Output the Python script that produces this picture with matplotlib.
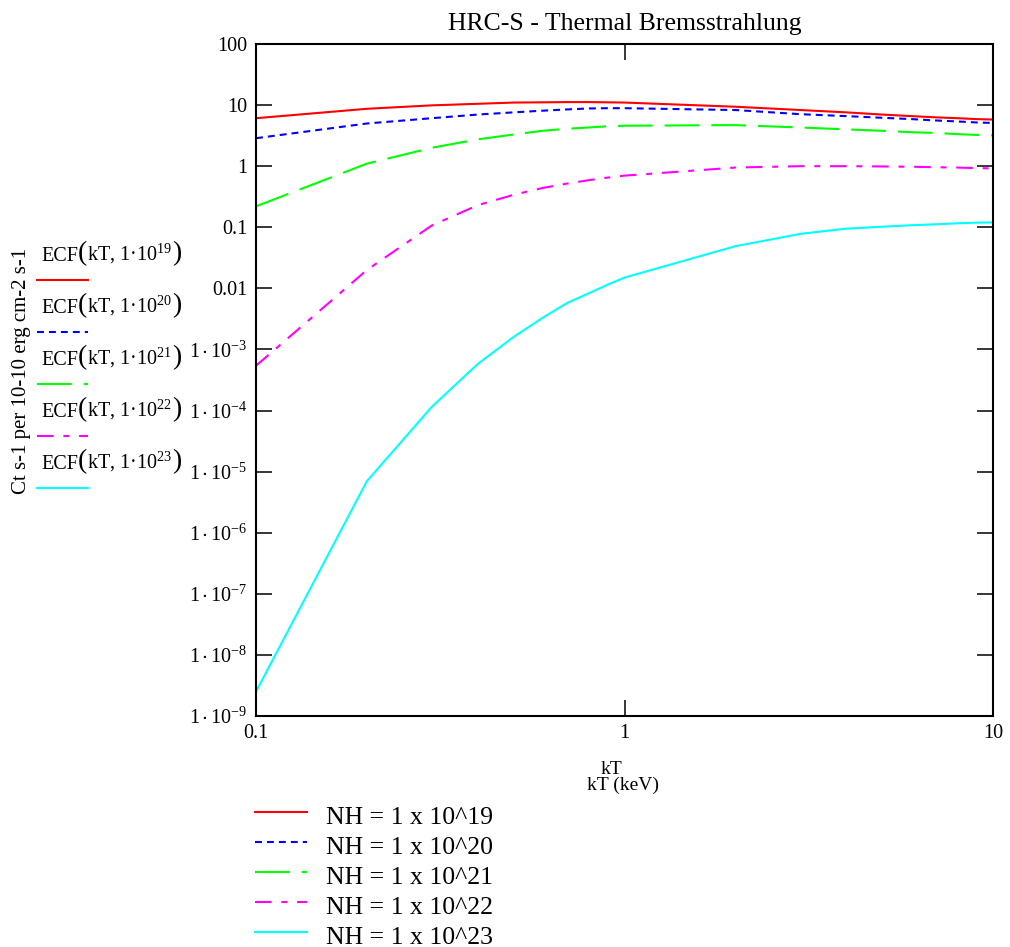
import matplotlib
matplotlib.use("Agg")
import matplotlib.pyplot as plt
from matplotlib.lines import Line2D
from matplotlib.offsetbox import TextArea, HPacker, AnnotationBbox

plt.rcParams["font.family"] = ["Liberation Serif", "DejaVu Serif"]
plt.rcParams["mathtext.fontset"] = "custom"
plt.rcParams["mathtext.rm"] = "Liberation Serif"
plt.rcParams["mathtext.it"] = "Liberation Serif:italic"
plt.rcParams["mathtext.bf"] = "Liberation Serif:bold"
plt.rcParams["mathtext.fallback"] = "stix"
plt.rcParams["lines.scale_dashes"] = False

# Temperature grid (keV)
kT = [0.1, 0.2, 0.3, 0.4, 0.5, 0.6, 0.7, 0.8, 0.9, 1.0,
      2, 3, 4, 5, 6, 7, 8, 9, 10]

# Energy conversion factors for each absorbing column
ecf_nh19 = [6.1, 8.7, 9.9, 10.5, 11.0, 11.1, 11.2, 11.2, 11.1, 11.0,
            9.4, 8.3, 7.6, 7.0, 6.6, 6.3, 6.1, 5.9, 5.8]
ecf_nh20 = [2.87, 5.0, 6.1, 7.0, 7.6, 8.1, 8.5, 8.8, 8.9, 8.9,
            8.3, 7.1, 6.6, 6.2, 5.9, 5.6, 5.4, 5.2, 5.1]
ecf_nh21 = [0.22, 1.1, 2.0, 2.75, 3.3, 3.8, 4.1, 4.3, 4.5, 4.6,
            4.7, 4.3, 4.0, 3.8, 3.6, 3.5, 3.35, 3.25, 3.2]
ecf_nh22 = [5.4e-4, 0.020, 0.107, 0.23, 0.34, 0.44, 0.52, 0.59, 0.65, 0.70,
            0.95, 1.0, 1.0, 0.99, 0.98, 0.96, 0.95, 0.93, 0.92]
ecf_nh23 = [2.5e-9, 7e-6, 1.15e-4, 5.8e-4, 1.6e-3, 3.3e-3, 5.8e-3, 8.3e-3, 0.0115, 0.015,
            0.049, 0.078, 0.095, 0.102, 0.108, 0.112, 0.116, 0.119, 0.12]

nh_exponents = ["19", "20", "21", "22", "23"]
series = [ecf_nh19, ecf_nh20, ecf_nh21, ecf_nh22, ecf_nh23]
colors = ["#ff0000", "#0000ff", "#00ff00", "#ff00ff", "#00ffff"]
dash_styles = ["-", (0, (5.0, 3.6)), (0, (25, 8.6)), (0, (12, 7, 4.3, 7)), "-"]

x_ticks = [0.1, 1, 10]
x_tick_labels = ["0.1", "1", "10"]
y_ticks = [1e-9, 1e-8, 1e-7, 1e-6, 1e-5, 1e-4, 1e-3, 0.01, 0.1, 1, 10, 100]
y_tick_labels = [r"$1\cdot10^{-9}$", r"$1\cdot10^{-8}$", r"$1\cdot10^{-7}$",
                 r"$1\cdot10^{-6}$", r"$1\cdot10^{-5}$", r"$1\cdot10^{-4}$",
                 r"$1\cdot10^{-3}$", "0.01", "0.1", "1", "10", "100"]

W, H = 1010, 947
fig = plt.figure(figsize=(W / 100, H / 100), dpi=100)
ax = fig.add_axes([256 / W, 1 - 716 / H, (993 - 256) / W, (716 - 44) / H])

lw = 1.5
for ys, c, ls in zip(series, colors, dash_styles):
    ax.plot(kT, ys, color=c, linestyle=ls, linewidth=lw)

ax.set_xscale("log")
ax.set_yscale("log")
ax.set_xlim(0.1, 10)
ax.set_ylim(1e-9, 100)
ax.set_xticks(x_ticks)
ax.set_xticklabels(x_tick_labels)
ax.set_yticks(y_ticks)
ax.set_yticklabels(y_tick_labels)
ax.minorticks_off()
ax.tick_params(axis="both", which="major", direction="in", length=11.5, width=1.1,
               labelsize=14.5, top=True, right=True, pad=6)
for s in ax.spines.values():
    s.set_linewidth(1.5)

# Title and axis captions
fig.text(625 / W, 1 - 30 / H, "HRC-S - Thermal Bremsstrahlung",
         ha="center", va="baseline", fontsize=18.5)
fig.text(611 / W, 1 - 774 / H, "kT", ha="center", va="baseline", fontsize=14)
fig.text(623 / W, 1 - 790 / H, "kT (keV)", ha="center", va="baseline", fontsize=14)
fig.text(22 / W, 1 - 371 / H, "Ct s-1 per 10-10 erg cm-2 s-1",
         rotation=90, ha="center", va="center", fontsize=15)

# Trace list beside the y axis: ECF(kT, 1·10^NH) with tall parentheses
fs_trace = 14.5
fs_paren = 20
left_line_y = [280, 332, 384, 436, 488]
for exp_, c, ls, yl in zip(nh_exponents, colors, dash_styles, left_line_y):
    parts = [
        TextArea("ECF", textprops=dict(fontsize=fs_trace)),
        TextArea("(", textprops=dict(fontsize=fs_paren)),
        TextArea("kT, 1\u00b710$^{%s}$" % exp_, textprops=dict(fontsize=fs_trace)),
        TextArea(")", textprops=dict(fontsize=fs_paren)),
    ]
    pack = HPacker(children=parts, align="baseline", pad=0, sep=0)
    ab = AnnotationBbox(pack, (41 / W, 1 - (yl - 26) / H), xycoords="figure fraction",
                        box_alignment=(0, 0.5), frameon=False, pad=0)
    fig.add_artist(ab)
    fig.add_artist(Line2D([37 / W, 88 / W], [1 - yl / H, 1 - yl / H],
                          color=c, linestyle=ls, linewidth=lw,
                          transform=fig.transFigure))

# Legend below the plot
bottom_line_y = [812, 842, 872, 902, 932]
for exp_, c, ls, yl in zip(nh_exponents, colors, dash_styles, bottom_line_y):
    fig.add_artist(Line2D([255 / W, 307 / W], [1 - yl / H, 1 - yl / H],
                          color=c, linestyle=ls, linewidth=lw,
                          transform=fig.transFigure))
    fig.text(326 / W, 1 - (yl + 12) / H, "NH = 1 x 10^%s" % exp_,
             ha="left", va="baseline", fontsize=18.5)

fig.savefig("out.png", dpi=100)
